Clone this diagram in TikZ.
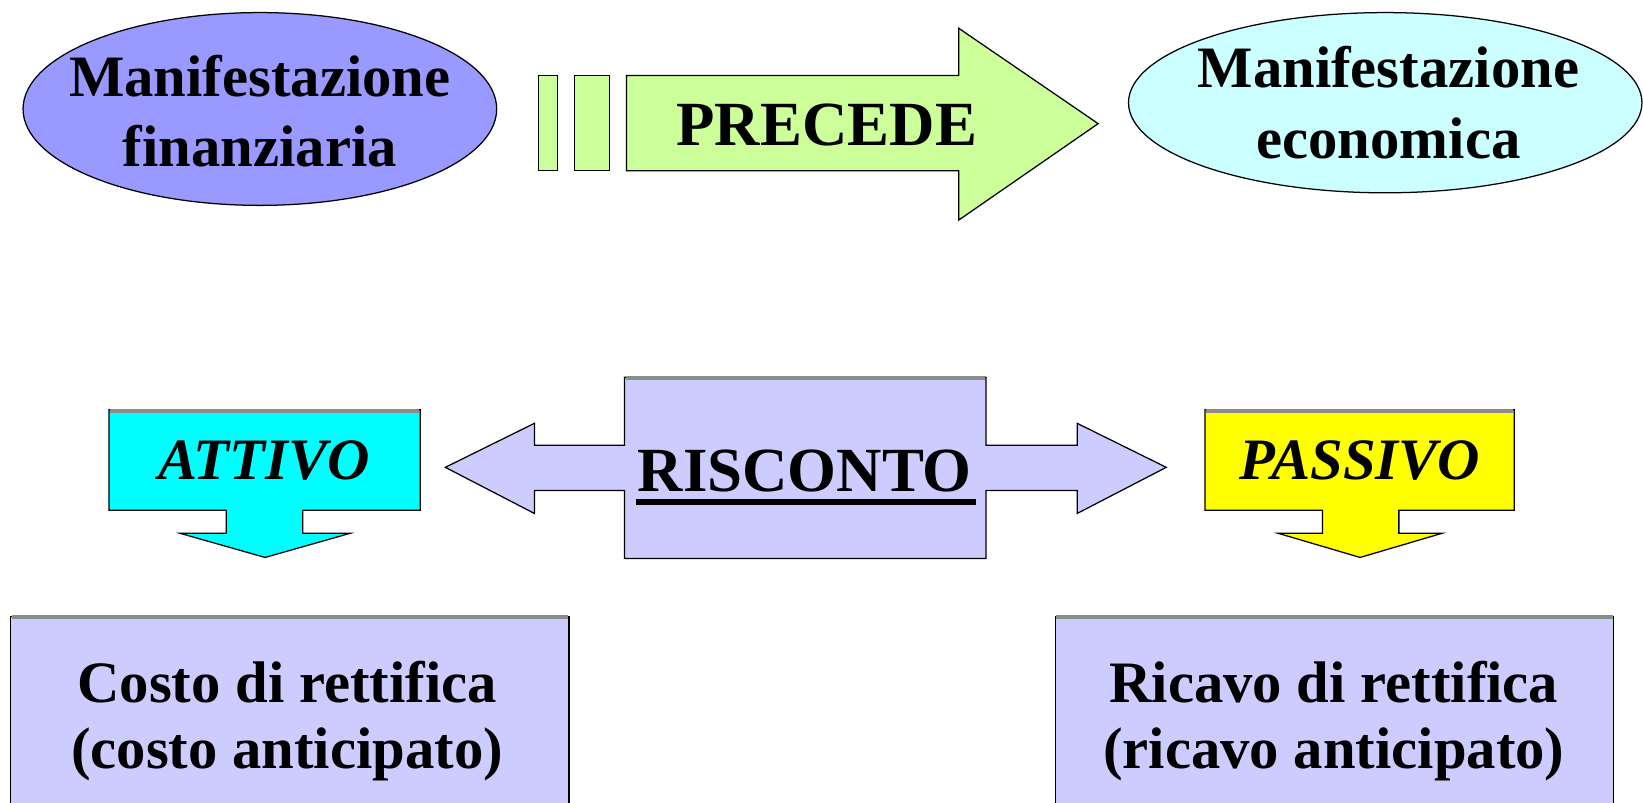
\documentclass[tikz,border=0pt]{standalone}
\usepackage{xcolor}
\usepackage{fontspec}
\setmainfont{Liberation Serif}
\definecolor{finblue}{HTML}{9999FF}
\definecolor{ecocyan}{HTML}{CCFFFF}
\definecolor{precgreen}{HTML}{CCFF99}
\definecolor{attcyan}{HTML}{00FFFF}
\definecolor{passyellow}{HTML}{FFFF00}
\definecolor{boxlilac}{HTML}{CCCCFF}
\begin{document}
\begin{tikzpicture}[x=1pt,y=-1pt,line width=1.2pt,line join=miter,
    label/.style={inner sep=0pt,align=center,font=\bfseries\fontsize{56}{67}\selectfont},
    biglabel/.style={inner sep=0pt,font=\bfseries\fontsize{60}{67}\selectfont},
    shade/.style={draw=black!45,line width=3.5pt}]
    \useasboundingbox (0,0) rectangle (1568,766);
    % Ellipses
    \draw[fill=finblue] (248,104) ellipse [x radius=226, y radius=92];
    \node[label] (fin) at (248,106) {Manifestazione\\finanziaria};
    \draw[fill=ecocyan] (1322,98) ellipse [x radius=245, y radius=86];
    \node[label] (eco) at (1325,98) {Manifestazione\\economica};
    % Arrow "precede"
    \draw[fill=precgreen] (514,72) rectangle (532,163);
    \draw[fill=precgreen] (548,72) rectangle (582,163);
    \draw[fill=precgreen] (598,72) -- (915,72) -- (915,27) -- (1048,118)
        -- (915,210) -- (915,163) -- (598,163) -- cycle;
    \node[biglabel,anchor=base] (prec) at (789,139) {PRECEDE};
    % Risconto, double arrow
    \draw[fill=boxlilac] (596,360) -- (941,360) -- (941,425) -- (1028,425)
        -- (1028,404) -- (1113,446) -- (1028,490) -- (1028,468) -- (941,468)
        -- (941,533) -- (596,533) -- (596,468) -- (510,468) -- (510,490)
        -- (425,446) -- (510,404) -- (510,425) -- (596,425) -- cycle;
    \draw[shade] (597,361) -- (940,361);
    \node[biglabel,anchor=base] (risc) at (768,469.5) {RISCONTO};
    \draw[line width=6.5pt] ([xshift=-1pt,yshift=-9.5pt]risc.base west)
        -- ([xshift=3pt,yshift=-9.5pt]risc.base east);
    % Attivo
    \draw[fill=attcyan] (104,391) -- (401,391) -- (401,487) -- (289,487)
        -- (289,509) -- (334,509) -- (253,532) -- (172,509) -- (216,509)
        -- (216,487) -- (104,487) -- cycle;
    \draw[shade] (105,392) -- (400,392);
    \node[label,anchor=base] (att) at (252,458) {\itshape ATTIVO};
    % Passivo
    \draw[fill=passyellow] (1150,391) -- (1445,391) -- (1445,487) -- (1335,487)
        -- (1335,509) -- (1376,509) -- (1298,532) -- (1220,509) -- (1262,509)
        -- (1262,487) -- (1150,487) -- cycle;
    \draw[shade] (1151,392) -- (1444,392);
    \node[label,anchor=base] (pass) at (1298,458) {\itshape PASSIVO};
    % Bottom boxes
    \draw[fill=boxlilac] (10,588) rectangle (543,800);
    \draw[shade] (11,589) -- (542,589);
    \node[label,font=\bfseries\fontsize{56}{63.5}\selectfont] (costo) at (274,688)
        {Costo di rettifica\\(costo anticipato)};
    \draw[fill=boxlilac] (1007,588) rectangle (1540,800);
    \draw[shade] (1008,589) -- (1539,589);
    \node[label,font=\bfseries\fontsize{56}{63.5}\selectfont] (ricavo) at (1273,688)
        {Ricavo di rettifica\\(ricavo anticipato)};
\end{tikzpicture}
\end{document}
